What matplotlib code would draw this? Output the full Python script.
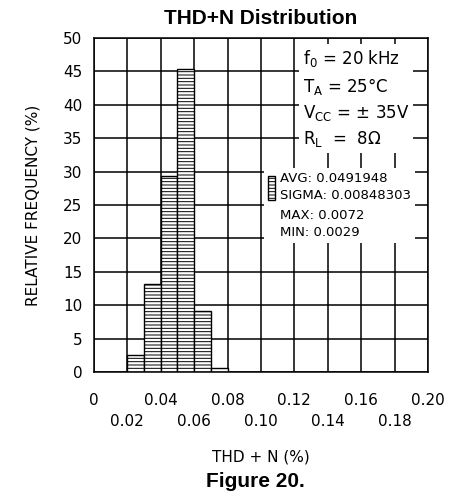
import matplotlib
matplotlib.use("Agg")
import matplotlib.pyplot as plt
from matplotlib.patches import Patch

# histogram bins (THD+N %) and relative frequency (%)
bin_left = [0.02, 0.03, 0.04, 0.05, 0.06, 0.07]
bin_width = 0.01
freq = [2.6, 13.2, 29.3, 45.3, 9.1, 0.6]

x_major = [0.0, 0.04, 0.08, 0.12, 0.16, 0.20]
x_minor = [0.02, 0.06, 0.10, 0.14, 0.18]
x_major_labels = ["0", "0.04", "0.08", "0.12", "0.16", "0.20"]
x_minor_labels = ["0.02", "0.06", "0.10", "0.14", "0.18"]
y_ticks = list(range(0, 51, 5))

conditions = ("f$_0$ = 20 kHz\n"
              "T$_\\mathregular{A}$ = 25°C\n"
              "V$_\\mathregular{CC}$ = ± 35V\n"
              "R$_\\mathregular{L}$  =  8Ω")
stats_a = "AVG: 0.0491948\nSIGMA: 0.00848303"
stats_b = "MAX: 0.0072\nMIN: 0.0029"

plt.rcParams['hatch.linewidth'] = 0.7
plt.rcParams['font.family'] = ['DejaVu Sans']

fig = plt.figure(figsize=(4.56, 4.91), dpi=100)
ax = fig.add_axes([0.206, 0.2424, 0.7325, 0.680])

ax.bar(bin_left, freq, width=bin_width, align='edge', color='white',
       edgecolor='black', linewidth=1.0, hatch='-----', zorder=3)

ax.set_xlim(0, 0.20)
ax.set_ylim(0, 50)
ax.set_xticks(x_major)
ax.set_xticklabels(x_major_labels)
ax.set_xticks(x_minor, minor=True)
ax.set_xticklabels(x_minor_labels, minor=True)
ax.set_yticks(y_ticks)
ax.tick_params(axis='x', which='major', length=0, pad=15, labelsize=11)
ax.tick_params(axis='x', which='minor', length=0, pad=30, labelsize=11)
ax.tick_params(axis='y', length=0, pad=8.5, labelsize=11)
ax.grid(True, which='both', color='black', linewidth=1.1, zorder=1)
ax.set_axisbelow(True)
for s in ax.spines.values():
    s.set_linewidth(1.1)

ax.set_ylabel("RELATIVE FREQUENCY (%)", fontsize=11, labelpad=16)
ax.set_xlabel("THD + N (%)", fontsize=11, labelpad=15)
ax.set_title("THD+N Distribution", fontsize=15, fontweight='bold',
             family='Liberation Sans', pad=10)
fig.text(0.561, 0.009, "Figure 20.", ha='center', va='baseline', fontsize=15,
         fontweight='bold', family='Liberation Sans')

ax.text(0.625, 0.97, conditions, transform=ax.transAxes, ha='left', va='top',
        fontsize=12, linespacing=1.4, zorder=5,
        bbox=dict(facecolor='white', edgecolor='none', pad=3))

handles = [Patch(facecolor='white', edgecolor='black', hatch='-----'),
           Patch(facecolor='none', edgecolor='none')]
leg = ax.legend(handles, [stats_a, stats_b], loc='upper left',
                bbox_to_anchor=(0.49, 0.63), fontsize=9.5, frameon=True,
                handlelength=0.5, handleheight=2.4, handletextpad=0.4,
                labelspacing=0.55, borderpad=0.3, fancybox=False)
for t in leg.get_texts():
    t.set_linespacing(1.4)
leg.get_frame().set_edgecolor('none')
leg.get_frame().set_alpha(1)
leg.set_zorder(6)

fig.savefig("out.png", dpi=100)
